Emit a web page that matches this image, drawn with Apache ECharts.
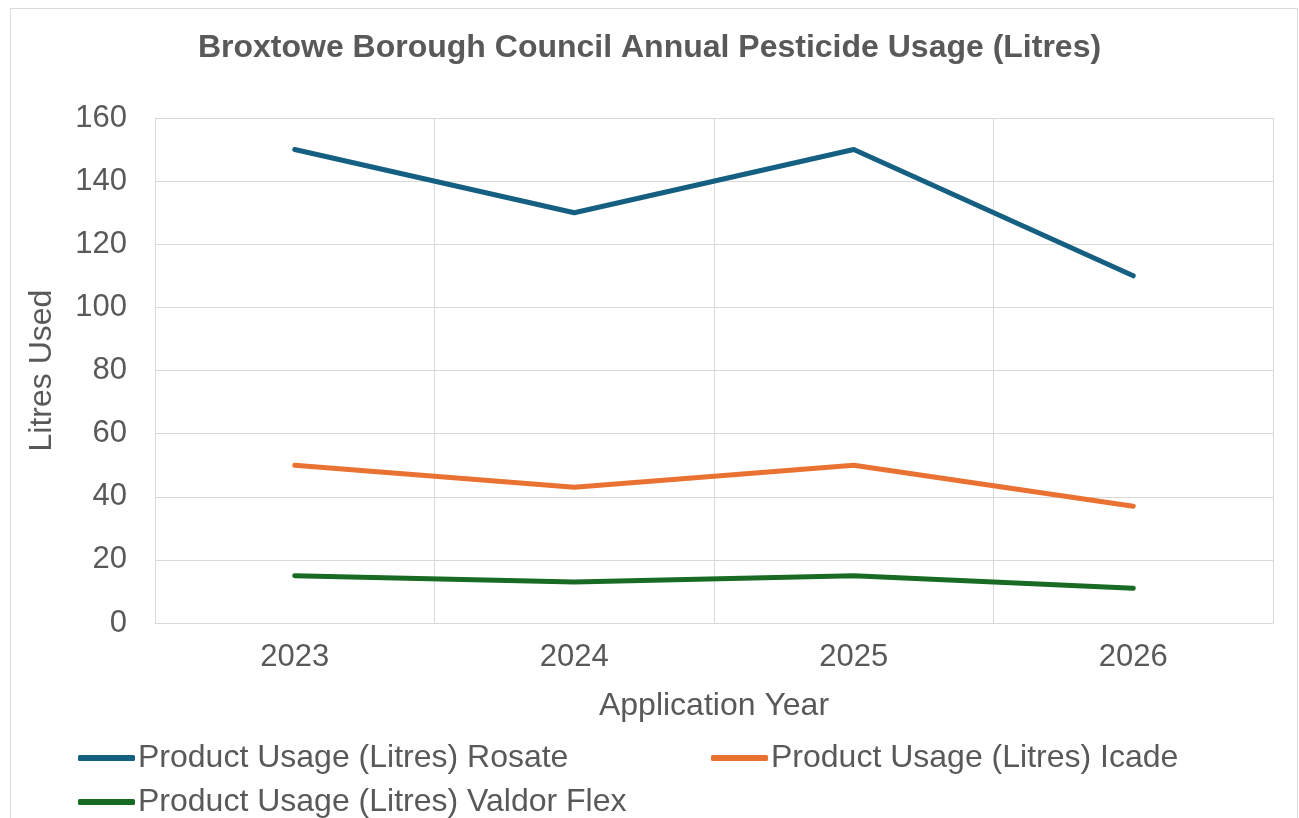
<!DOCTYPE html>
<html>
<head>
<meta charset="utf-8">
<script src="https://cdn.jsdelivr.net/npm/echarts@6/dist/echarts.min.js"></script>
<style>
  html, body { margin: 0; padding: 0; background: #fff; }
  #main { width: 1299px; height: 818px; }
</style>
</head>
<body>
<div id="main"></div>
<script>
var years = ['2023', '2024', '2025', '2026'];
var rosate = [150, 130, 150, 110];
var icade = [50, 43, 50, 37];
var valdor = [15, 13, 15, 11];
var seriesNames = [
    'Product Usage (Litres) Rosate',
    'Product Usage (Litres) Icade',
    'Product Usage (Litres) Valdor Flex'
];
var colors = ['#156082', '#E97132', '#196B24'];

var myChart = echarts.init(document.getElementById('main'));
var font = 'Liberation Sans, Arial, sans-serif';
var textColor = '#595959';

function legendAt(name, left, top) {
    return {
        data: [name],
        left: left,
        top: top,
        icon: 'roundRect',
        itemWidth: 57,
        itemHeight: 6,
        itemGap: 0,
        textStyle: { fontFamily: font, fontSize: 32, color: textColor, padding: [0, 0, 0, -2] }
    };
}

var option = {
    animation: false,
    color: colors,
    title: {
        text: 'Broxtowe Borough Council Annual Pesticide Usage (Litres)',
        left: 'center',
        top: 27,
        textStyle: { fontFamily: font, fontSize: 32, fontWeight: 'bold', color: textColor }
    },
    graphic: [{
        type: 'rect',
        shape: { x: 10.5, y: 8.5, width: 1287, height: 830 },
        style: { fill: 'none', stroke: '#d9d9d9', lineWidth: 1 },
        silent: true
    }],
    legend: [
        legendAt(seriesNames[0], 73, 737),
        legendAt(seriesNames[1], 706, 737),
        legendAt(seriesNames[2], 73, 781)
    ],
    grid: { left: 155, right: 26, top: 118, bottom: 195, containLabel: false },
    xAxis: {
        type: 'category',
        data: years,
        name: 'Application Year',
        nameLocation: 'middle',
        nameGap: 67,
        nameTextStyle: { fontFamily: font, fontSize: 32, color: textColor },
        axisLine: { lineStyle: { color: '#d9d9d9' } },
        axisTick: { show: false },
        axisLabel: { fontFamily: font, fontSize: 31, color: textColor, margin: 19 },
        splitLine: { show: true, lineStyle: { color: '#d9d9d9', width: 1 } }
    },
    yAxis: {
        type: 'value',
        min: 0,
        max: 160,
        interval: 20,
        name: 'Litres Used',
        nameLocation: 'middle',
        nameGap: 97,
        nameTextStyle: { fontFamily: font, fontSize: 32, color: textColor },
        axisLine: { show: true, lineStyle: { color: '#d9d9d9' } },
        axisTick: { show: false },
        axisLabel: { fontFamily: font, fontSize: 31, color: textColor, margin: 28 },
        splitLine: { lineStyle: { color: '#d9d9d9', width: 1 } }
    },
    series: [{
        name: seriesNames[0],
        type: 'line',
        data: rosate,
        symbol: 'none',
        lineStyle: { width: 5, cap: 'round', join: 'round' }
    }, {
        name: seriesNames[1],
        type: 'line',
        data: icade,
        symbol: 'none',
        lineStyle: { width: 5, cap: 'round', join: 'round' }
    }, {
        name: seriesNames[2],
        type: 'line',
        data: valdor,
        symbol: 'none',
        lineStyle: { width: 5, cap: 'round', join: 'round' }
    }]
};
myChart.setOption(option);
</script>
</body>
</html>
